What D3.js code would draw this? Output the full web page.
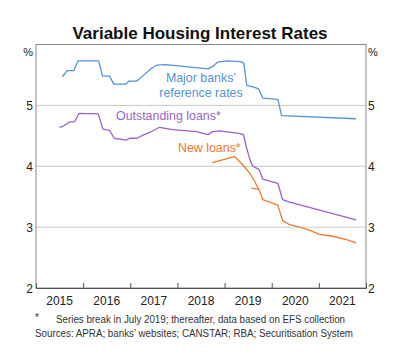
<!DOCTYPE html>
<html>
<head>
<meta charset="utf-8">
<script src="https://cdn.jsdelivr.net/npm/d3@7"></script>
<style>
  html, body { margin: 0; padding: 0; background: #fff; }
  svg { display: block; font-family: Arial, "Liberation Sans", sans-serif; }
</style>
</head>
<body>
<svg id="chart" width="400" height="358"></svg>
<script>
// ---- Data (decimal years, % values) ----
const yearLabels = [2015, 2016, 2017, 2018, 2019, 2020, 2021];
const yTicks = [2, 3, 4, 5];

const majorDates = [2015.56, 2015.66, 2015.80, 2015.89, 2016.33, 2016.41, 2016.56, 2016.65, 2016.91, 2016.97, 2017.14, 2017.23, 2017.45, 2017.56, 2017.75, 2018.65, 2018.75, 2018.85, 2019.05, 2019.35, 2019.41, 2019.47, 2019.62, 2019.72, 2019.81, 2020.13, 2020.21, 2021.79];
const majorVals  = [5.47, 5.57, 5.57, 5.73, 5.73, 5.48, 5.48, 5.35, 5.35, 5.40, 5.40, 5.46, 5.61, 5.66, 5.67, 5.60, 5.64, 5.71, 5.73, 5.72, 5.69, 5.33, 5.30, 5.27, 5.12, 5.10, 4.83, 4.78];

const outDates = [2015.50, 2015.58, 2015.72, 2015.82, 2015.91, 2016.32, 2016.42, 2016.56, 2016.66, 2016.91, 2016.99, 2017.14, 2017.27, 2017.45, 2017.62, 2017.90, 2018.40, 2018.65, 2018.75, 2018.90, 2019.30, 2019.40, 2019.46, 2019.55, 2019.60, 2019.73, 2019.81, 2020.13, 2020.23, 2020.38, 2021.79];
const outVals  = [4.64, 4.66, 4.73, 4.73, 4.87, 4.86, 4.61, 4.59, 4.46, 4.43, 4.46, 4.46, 4.51, 4.57, 4.64, 4.60, 4.57, 4.52, 4.57, 4.58, 4.54, 4.52, 4.32, 4.08, 4.00, 3.95, 3.79, 3.72, 3.45, 3.41, 3.12];

const newOldDates = [2018.74, 2019.21, 2019.39, 2019.53, 2019.64, 2019.73];
const newOldVals  = [4.06, 4.16, 4.02, 3.89, 3.75, 3.61];

const newDates = [2019.57, 2019.73, 2019.81, 2020.13, 2020.23, 2020.38, 2020.59, 2020.80, 2021.01, 2021.29, 2021.57, 2021.79];
const newVals  = [3.64, 3.62, 3.45, 3.36, 3.11, 3.04, 3.00, 2.95, 2.88, 2.85, 2.80, 2.74];

// ---- Layout ----
const svg = d3.select("#chart");
const L = 36, R = 366, T = 44.5, B = 288;
const x = d3.scaleLinear().domain([2015, 2022]).range([L, R]);
const y = d3.scaleLinear().domain([2, 6]).range([B, T]);

const BLUE = "#5592d6", PURPLE = "#9b63c8", ORANGE = "#f07a2e";

// Title
svg.append("text").attr("x", 200).attr("y", 38.5).attr("text-anchor", "middle")
  .attr("font-size", 17).attr("font-weight", "bold").attr("fill", "#111")
  .text("Variable Housing Interest Rates");

// Gridlines
svg.append("g").selectAll("line").data([3, 4, 5]).join("line")
  .attr("x1", L).attr("x2", R).attr("y1", d => y(d)).attr("y2", d => y(d))
  .attr("stroke", "#c8c8c8").attr("stroke-width", 1);

// Frame
svg.append("rect").attr("x", L).attr("y", T).attr("width", R - L).attr("height", B - T)
  .attr("fill", "none").attr("stroke", "#8a8a8a").attr("stroke-width", 1);

// X axis with inward ticks at year boundaries
const xAxis = d3.axisBottom(x).tickValues(d3.range(2016, 2022)).tickSize(-5).tickFormat("");
const gx = svg.append("g").attr("transform", `translate(0,${B})`).call(xAxis);
gx.select(".domain").attr("stroke", "#555");
gx.selectAll(".tick line").attr("stroke", "#555");

svg.append("g").selectAll("text").data(yearLabels).join("text")
  .attr("x", d => x(d + 0.5)).attr("y", 305).attr("text-anchor", "middle")
  .attr("font-size", 12).attr("fill", "#222").text(d => d);

// Y labels both sides
const gyl = svg.append("g");
gyl.selectAll("text").data(yTicks).join("text")
  .attr("x", 33).attr("y", d => y(d) + 4.5).attr("text-anchor", "end")
  .attr("font-size", 12).attr("fill", "#222").text(d => d);
const gyr = svg.append("g");
gyr.selectAll("text").data(yTicks).join("text")
  .attr("x", 368).attr("y", d => y(d) + 4.5).attr("text-anchor", "start")
  .attr("font-size", 12).attr("fill", "#222").text(d => d);
svg.append("text").attr("x", 33).attr("y", 56).attr("text-anchor", "end")
  .attr("font-size", 11).attr("fill", "#222").text("%");
svg.append("text").attr("x", 368).attr("y", 56).attr("text-anchor", "start")
  .attr("font-size", 11).attr("fill", "#222").text("%");

// Lines
const line = d3.line().x(d => x(d[0])).y(d => y(d[1]));
function series(dates, vals) { return dates.map((d, i) => [d, vals[i]]); }
const lines = [
  [series(majorDates, majorVals), BLUE],
  [series(outDates, outVals), PURPLE],
  [series(newOldDates, newOldVals), ORANGE],
  [series(newDates, newVals), ORANGE]
];
svg.append("g").selectAll("path").data(lines).join("path")
  .attr("d", d => line(d[0])).attr("fill", "none")
  .attr("stroke", d => d[1]).attr("stroke-width", 1.3).attr("stroke-linejoin", "round");

// Series labels
const lab = svg.append("g").attr("font-size", 12.4);
lab.append("text").attr("x", 201).attr("y", 82).attr("text-anchor", "middle").attr("fill", BLUE).text("Major banks’");
lab.append("text").attr("x", 201).attr("y", 97).attr("text-anchor", "middle").attr("fill", BLUE).text("reference rates");
lab.append("text").attr("x", 116).attr("y", 120).attr("fill", PURPLE).text("Outstanding loans*");
lab.append("text").attr("x", 178).attr("y", 152).attr("fill", ORANGE).text("New loans*");

// Footnotes
const fn = svg.append("g").attr("font-size", 10).attr("fill", "#333");
fn.append("text").attr("x", 35).attr("y", 321).text("*");
fn.append("text").attr("x", 56).attr("y", 323)
  .attr("textLength", 289).attr("lengthAdjust", "spacingAndGlyphs")
  .text("Series break in July 2019; thereafter, data based on EFS collection");
fn.append("text").attr("x", 35).attr("y", 337)
  .attr("textLength", 318).attr("lengthAdjust", "spacingAndGlyphs")
  .text("Sources: APRA; banks’ websites; CANSTAR; RBA; Securitisation System");
</script>
</body>
</html>
